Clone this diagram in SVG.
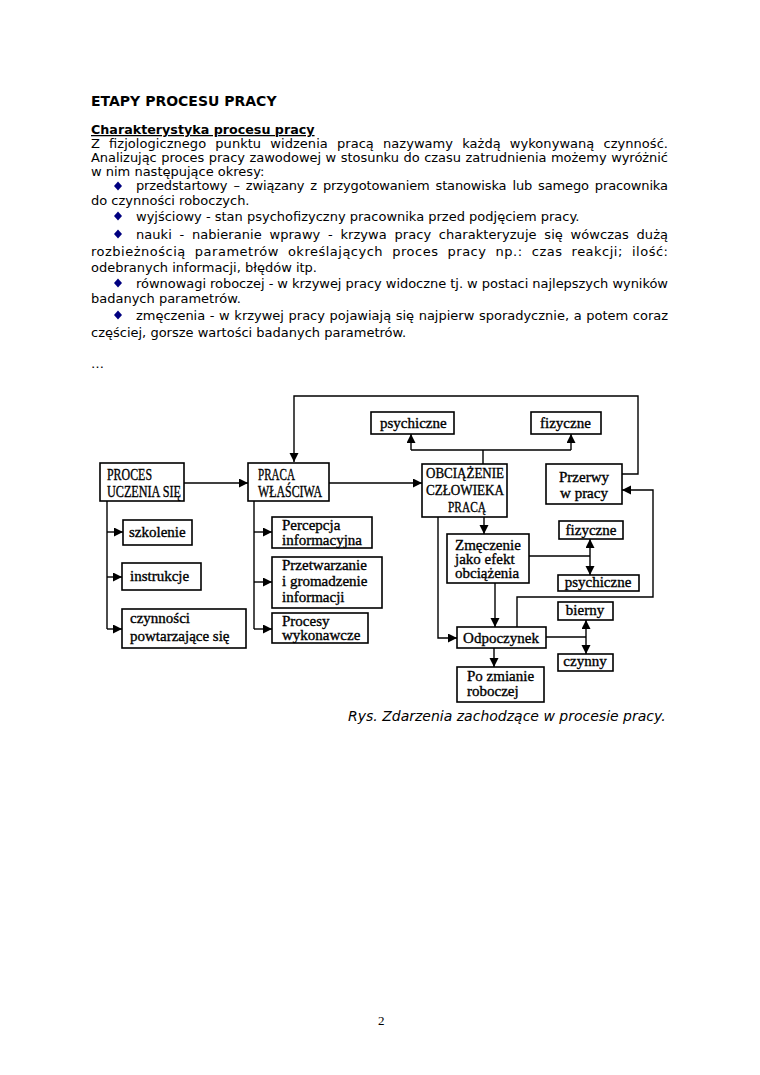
<svg xmlns="http://www.w3.org/2000/svg" width="760" height="1075" viewBox="0 0 760 1075">
<style>
.t{font-family:"DejaVu Sans",sans-serif;font-size:13px;fill:#000}
.h{font-family:"DejaVu Sans",sans-serif;font-size:14px;font-weight:bold;fill:#000}
.hs{font-family:"DejaVu Sans",sans-serif;font-size:12.7px;font-weight:bold;fill:#000;text-decoration:underline}
.cap{font-family:"DejaVu Sans",sans-serif;font-size:14px;font-style:italic;fill:#000}
.b{fill:#000080}
.box{fill:#fff;stroke:#000;stroke-width:1.6}
.d{font-family:"Liberation Serif",serif;font-size:15px;fill:#000;stroke:#000;stroke-width:0.35}
.u{font-size:16px}
.c{fill:none;stroke:#000;stroke-width:1.4}
.m{text-anchor:middle}
</style>
<defs>
<marker id="ar" markerUnits="userSpaceOnUse" markerWidth="10" markerHeight="10" refX="9" refY="4.5" orient="auto">
<path d="M0,0 L9,4.5 L0,9 Z" fill="#000"/>
</marker>
<path id="dia" d="M0,-4.5 L4,0 L0,4.5 L-4,0 Z"/>
</defs>
<rect width="760" height="1075" fill="#fff"/>

<g id="text">
<text class="h" x="91" y="106">ETAPY PROCESU PRACY</text>
<text class="hs" x="91" y="134">Charakterystyka procesu pracy</text>
<text class="t" x="91" y="148" word-spacing="5" textLength="577" lengthAdjust="spacing">Z fizjologicznego punktu widzenia pracą nazywamy każdą wykonywaną czynność.</text>
<text class="t" x="91" y="162" word-spacing="0.5" textLength="577" lengthAdjust="spacing">Analizując proces pracy zawodowej w stosunku do czasu zatrudnienia możemy wyróżnić</text>
<text class="t" x="91" y="176">w nim następujące okresy:</text>
<use href="#dia" class="b" x="118" y="186"/>
<text class="t" x="136" y="190" word-spacing="2" textLength="532" lengthAdjust="spacing">przedstartowy – związany z przygotowaniem stanowiska lub samego pracownika</text>
<text class="t" x="91" y="205">do czynności roboczych.</text>
<use href="#dia" class="b" x="118" y="216"/>
<text class="t" x="136" y="221">wyjściowy - stan psychofizyczny pracownika przed podjęciem pracy.</text>
<use href="#dia" class="b" x="118" y="234"/>
<text class="t" x="136" y="239" word-spacing="3.5" textLength="532" lengthAdjust="spacing">nauki - nabieranie wprawy - krzywa pracy charakteryzuje się wówczas dużą</text>
<text class="t" x="91" y="256" word-spacing="4.5" textLength="577" lengthAdjust="spacing">rozbieżnością parametrów określających proces pracy np.: czas reakcji; ilość:</text>
<text class="t" x="91" y="272">odebranych informacji, błędów itp.</text>
<use href="#dia" class="b" x="118" y="283"/>
<text class="t" x="136" y="288" textLength="532" lengthAdjust="spacing">równowagi roboczej - w krzywej pracy widoczne tj. w postaci najlepszych wyników</text>
<text class="t" x="91" y="303">badanych parametrów.</text>
<use href="#dia" class="b" x="118" y="315"/>
<text class="t" x="136" y="320" word-spacing="0.5" textLength="532" lengthAdjust="spacing">zmęczenia - w krzywej pracy pojawiają się najpierw sporadycznie, a potem coraz</text>
<text class="t" x="91" y="337">częściej, gorsze wartości badanych parametrów.</text>
<text class="t" x="91" y="368">…</text>
<text class="cap" x="348" y="721">Rys. Zdarzenia zachodzące w procesie pracy.</text>
<text x="378" y="1025" font-family="Liberation Serif" font-size="13">2</text>
</g>

<g id="connectors">
<path class="c" d="M622,474 H638 V396 H294 V462" marker-end="url(#ar)"/>
<path class="c" d="M184,483 H248" marker-end="url(#ar)"/>
<path class="c" d="M329,483 H422" marker-end="url(#ar)"/>
<path class="c" d="M483,464 V450 M411,450 H571"/>
<path class="c" d="M411,450 V434" marker-end="url(#ar)"/>
<path class="c" d="M571,450 V434" marker-end="url(#ar)"/>
<path class="c" d="M107,501 V629"/>
<path class="c" d="M107,532 H123" marker-end="url(#ar)"/>
<path class="c" d="M107,577 H122" marker-end="url(#ar)"/>
<path class="c" d="M107,629 H122" marker-end="url(#ar)"/>
<path class="c" d="M254,501 V629"/>
<path class="c" d="M254,532 H272" marker-end="url(#ar)"/>
<path class="c" d="M254,582 H272" marker-end="url(#ar)"/>
<path class="c" d="M254,629 H272" marker-end="url(#ar)"/>
<path class="c" d="M484,517 V534" marker-end="url(#ar)"/>
<path class="c" d="M438,517 V638 H457" marker-end="url(#ar)"/>
<path class="c" d="M495,583 V627" marker-end="url(#ar)"/>
<path class="c" d="M494,648 V667" marker-end="url(#ar)"/>
<path class="c" d="M546,637 H586"/>
<path class="c" d="M586,637 V620" marker-end="url(#ar)"/>
<path class="c" d="M586,637 V654" marker-end="url(#ar)"/>
<path class="c" d="M529,556 H590"/>
<path class="c" d="M590,556 V539" marker-end="url(#ar)"/>
<path class="c" d="M590,556 V575" marker-end="url(#ar)"/>
<path class="c" d="M517,627 V597 H653 V490 H622" marker-end="url(#ar)"/>
</g>

<g id="proces"><rect class="box" x="100" y="463" width="84" height="38"/>
<text class="d u" x="107" y="480" textLength="45" lengthAdjust="spacingAndGlyphs">PROCES</text>
<text class="d u" x="107" y="497" textLength="74" lengthAdjust="spacingAndGlyphs">UCZENIA SIĘ</text></g>
<g id="praca"><rect class="box" x="248" y="463" width="81" height="38"/>
<text class="d u" x="258" y="480" textLength="37" lengthAdjust="spacingAndGlyphs">PRACA</text>
<text class="d u" x="258" y="497" textLength="64" lengthAdjust="spacingAndGlyphs">WŁAŚCIWA</text></g>
<g id="obciazenie"><rect class="box" x="422" y="464" width="85" height="53"/>
<text class="d" x="426" y="478" textLength="78" lengthAdjust="spacingAndGlyphs">OBCIĄŻENIE</text>
<text class="d" x="426" y="495" textLength="78" lengthAdjust="spacingAndGlyphs">CZŁOWIEKA</text>
<text class="d" x="448" y="512" textLength="38" lengthAdjust="spacingAndGlyphs">PRACĄ</text></g>
<g id="psychiczne1"><rect class="box" x="371" y="412" width="83" height="22"/>
<text class="d" x="380" y="428">psychiczne</text></g>
<g id="fizyczne1"><rect class="box" x="531" y="412" width="70" height="22"/>
<text class="d" x="540" y="428">fizyczne</text></g>
<g id="przerwy"><rect class="box" x="546" y="464" width="76" height="40"/>
<text class="d m" x="584" y="482">Przerwy</text>
<text class="d m" x="584" y="498">w pracy</text></g>
<g id="szkolenie"><rect class="box" x="123" y="520" width="69" height="25"/>
<text class="d" x="129" y="537">szkolenie</text></g>
<g id="instrukcje"><rect class="box" x="122" y="563" width="79" height="27"/>
<text class="d" x="130" y="581">instrukcje</text></g>
<g id="czynnosci"><rect class="box" x="122" y="609" width="124" height="39"/>
<text class="d" x="130" y="623">czynności</text>
<text class="d" x="130" y="641">powtarzające się</text></g>
<g id="percepcja"><rect class="box" x="272" y="517" width="100" height="31"/>
<text class="d" x="282" y="530">Percepcja</text>
<text class="d" x="282" y="545">informacyjna</text></g>
<g id="przetwarzanie"><rect class="box" x="272" y="557" width="110" height="51"/>
<text class="d" x="282" y="570">Przetwarzanie</text>
<text class="d" x="282" y="586">i gromadzenie</text>
<text class="d" x="282" y="602">informacji</text></g>
<g id="procesy"><rect class="box" x="272" y="613" width="96" height="30"/>
<text class="d" x="282" y="626">Procesy</text>
<text class="d" x="282" y="640">wykonawcze</text></g>
<g id="zmeczenie"><rect class="box" x="447" y="534" width="82" height="49"/>
<text class="d" x="455" y="550">Zmęczenie</text>
<text class="d" x="455" y="564">jako efekt</text>
<text class="d" x="455" y="578">obciążenia</text></g>
<g id="fizyczne2"><rect class="box" x="559" y="521" width="64" height="18"/>
<text class="d m" x="591" y="535">fizyczne</text></g>
<g id="psychiczne2"><rect class="box" x="558" y="575" width="81" height="16"/>
<text class="d m" x="598" y="587">psychiczne</text></g>
<g id="bierny"><rect class="box" x="558" y="602" width="55" height="18"/>
<text class="d m" x="585" y="615">bierny</text></g>
<g id="czynny"><rect class="box" x="558" y="654" width="55" height="17"/>
<text class="d m" x="585" y="666">czynny</text></g>
<g id="odpoczynek"><rect class="box" x="457" y="627" width="89" height="21"/>
<text class="d m" x="501" y="643">Odpoczynek</text></g>
<g id="pozmianie"><rect class="box" x="457" y="667" width="87" height="35"/>
<text class="d" x="467" y="681">Po zmianie</text>
<text class="d" x="467" y="696">roboczej</text></g>
</svg>
